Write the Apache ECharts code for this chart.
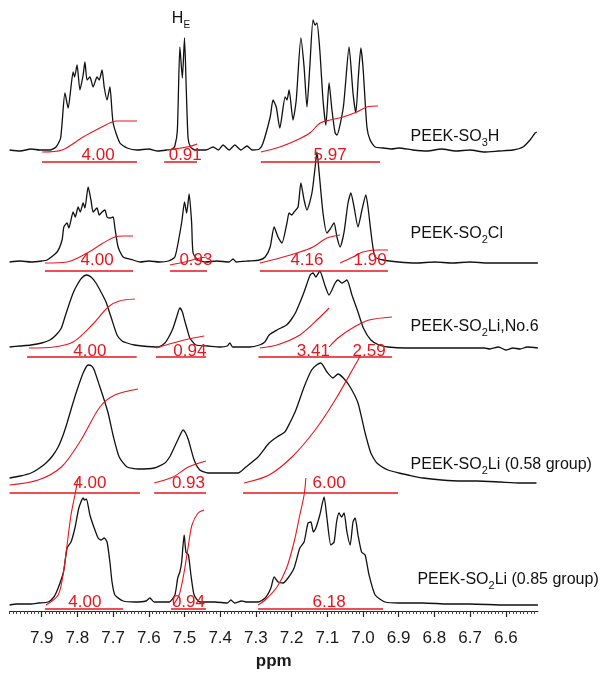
<!DOCTYPE html>
<html>
<head>
<meta charset="utf-8">
<script src="https://cdn.jsdelivr.net/npm/echarts@6.0.0/dist/echarts.min.js"></script>
<style>
html,body{margin:0;padding:0;background:#fff;}
#chart{width:603px;height:676px;}
</style>
</head>
<body>
<div id="chart"></div>
<script>
// ---------- DATA (ppm, intensity above each trace's own baseline) ----------
const ppmTicks = [7.9, 7.8, 7.7, 7.6, 7.5, 7.4, 7.3, 7.2, 7.1, 7.0, 6.9, 6.8, 6.7, 6.6];
const sampleNames = ['PEEK-SO{s|3}H', 'PEEK-SO{s|2}Cl', 'PEEK-SO{s|2}Li,No.6', 'PEEK-SO{s|2}Li (0.58 group)', 'PEEK-SO{s|2}Li (0.85 group)'];
const peakTag = 'H{s|E}';
const peakTagAt = [7.51, 131];

const so3hSpectrum = [[7.99,0],[7.96,-1],[7.93,1],[7.905,0],[7.877,0],[7.86,3],[7.847,12],[7.835,57],[7.826,42],[7.812,78],[7.808,73],[7.801,85],[7.793,60],[7.784,75],[7.779,88],[7.773,70],[7.765,73],[7.756,63],[7.745,73],[7.739,70],[7.731,80],[7.725,63],[7.717,50],[7.709,63],[7.700,27],[7.681,7],[7.661,2],[7.633,0],[7.60,1],[7.575,-1],[7.55,0],[7.535,1],[7.527,4],[7.52,20],[7.513,103],[7.506,72],[7.500,112],[7.495,60],[7.49,12],[7.483,3],[7.47,0],[7.44,0],[7.42,3],[7.405,0],[7.392,5],[7.375,0],[7.359,5],[7.342,0],[7.325,4],[7.31,0],[7.29,1],[7.280,7],[7.260,33],[7.252,50],[7.243,43],[7.233,22],[7.218,53],[7.213,50],[7.207,60],[7.196,30],[7.187,50],[7.174,112],[7.165,83],[7.157,43],[7.149,83],[7.140,130],[7.134,125],[7.129,127],[7.121,100],[7.112,50],[7.104,25],[7.095,67],[7.087,40],[7.078,17],[7.073,15],[7.055,43],[7.039,103],[7.028,57],[7.020,37],[7.013,73],[7.006,102],[7.0,83],[6.989,23],[6.980,10],[6.966,3],[6.944,2],[6.92,1],[6.90,2],[6.86,0],[6.82,-1],[6.78,1],[6.74,-1],[6.70,0],[6.66,-2],[6.62,-1],[6.58,0],[6.552,3],[6.532,10],[6.518,17],[6.513,18]];
const so2clSpectrum = [[7.99,0],[7.96,1],[7.93,0],[7.90,1],[7.885,2],[7.857,10],[7.843,22],[7.838,35],[7.829,39],[7.824,34],[7.812,50],[7.806,45],[7.798,55],[7.792,50],[7.784,59],[7.779,54],[7.770,75],[7.762,62],[7.756,50],[7.745,54],[7.739,47],[7.731,50],[7.723,52],[7.717,45],[7.709,44],[7.700,45],[7.695,34],[7.686,15],[7.672,5],[7.644,2],[7.624,0],[7.60,1],[7.57,0],[7.545,1],[7.527,5],[7.515,25],[7.507,42],[7.500,60],[7.494,49],[7.487,68],[7.480,39],[7.476,9],[7.462,2],[7.44,0],[7.41,1],[7.375,0],[7.364,3],[7.355,0],[7.32,1],[7.29,2],[7.274,5],[7.260,15],[7.249,35],[7.238,25],[7.227,19],[7.213,39],[7.207,49],[7.200,47],[7.193,50],[7.182,55],[7.174,79],[7.165,62],[7.157,52],[7.143,69],[7.134,95],[7.129,110],[7.123,90],[7.112,49],[7.101,29],[7.092,33],[7.081,39],[7.073,25],[7.064,15],[7.053,30],[7.042,59],[7.034,69],[7.025,55],[7.014,35],[7.003,52],[6.992,67],[6.986,55],[6.975,22],[6.966,5],[6.944,2],[6.90,0],[6.85,-1],[6.80,0],[6.75,-1],[6.70,0],[6.65,-1],[6.60,-1],[6.55,-1],[6.51,-1]];
const no6Spectrum = [[7.99,0],[7.96,1],[7.93,2],[7.90,4],[7.877,7],[7.86,12],[7.845,19],[7.835,30],[7.824,42],[7.812,54],[7.801,62],[7.788,69],[7.775,72],[7.762,70],[7.748,64],[7.734,55],[7.720,45],[7.705,29],[7.689,12],[7.675,6],[7.661,4],[7.640,2],[7.619,1],[7.574,0],[7.555,4],[7.544,10],[7.532,19],[7.522,30],[7.513,39],[7.506,35],[7.500,27],[7.492,17],[7.485,9],[7.468,2],[7.434,1],[7.40,0],[7.38,1],[7.373,4],[7.365,0],[7.317,0],[7.29,2],[7.275,5],[7.263,12],[7.241,17],[7.214,22],[7.200,28],[7.188,35],[7.176,45],[7.165,55],[7.148,72],[7.140,74],[7.132,70],[7.121,76],[7.107,62],[7.095,52],[7.078,64],[7.070,67],[7.059,64],[7.045,67],[7.031,52],[7.014,35],[6.999,19],[6.978,7],[6.955,2],[6.930,0],[6.88,-1],[6.80,-1],[6.72,-1],[6.66,-1],[6.645,-2],[6.62,0],[6.60,-3],[6.58,-1],[6.56,-2],[6.54,0],[6.51,-1]];
const g058Spectrum = [[7.990,5],[7.960,7],[7.930,10],[7.910,14],[7.888,20],[7.870,27],[7.854,36],[7.840,48],[7.829,60],[7.815,77],[7.801,93],[7.784,110],[7.770,118],[7.760,117],[7.753,113],[7.737,96],[7.725,83],[7.714,70],[7.699,46],[7.683,26],[7.661,16],[7.630,14],[7.585,15],[7.555,20],[7.540,27],[7.532,33],[7.515,46],[7.504,53],[7.497,50],[7.489,43],[7.473,23],[7.457,13],[7.434,10],[7.392,10],[7.350,10],[7.328,16],[7.294,26],[7.263,40],[7.241,46],[7.219,51],[7.205,60],[7.188,73],[7.165,96],[7.144,113],[7.130,118],[7.118,120],[7.101,111],[7.084,105],[7.070,109],[7.055,105],[7.036,96],[7.014,80],[6.994,50],[6.978,30],[6.961,20],[6.930,13],[6.900,10],[6.874,8],[6.832,5],[6.780,3],[6.724,2],[6.680,2],[6.616,1],[6.560,0],[6.514,0]];
const g085Spectrum = [[7.990,0],[7.970,1],[7.950,1],[7.930,1],[7.909,2],[7.882,3],[7.866,8],[7.854,17],[7.839,33],[7.829,57],[7.818,63],[7.807,77],[7.796,97],[7.784,107],[7.780,105],[7.775,106],[7.765,90],[7.753,77],[7.742,67],[7.734,65],[7.725,67],[7.717,63],[7.709,43],[7.703,23],[7.695,10],[7.672,4],[7.639,3],[7.608,4],[7.597,7],[7.585,3],[7.543,3],[7.527,10],[7.519,27],[7.513,33],[7.508,43],[7.501,70],[7.496,53],[7.489,50],[7.482,30],[7.473,10],[7.457,3],[7.415,3],[7.380,2],[7.370,5],[7.360,2],[7.340,4],[7.328,3],[7.294,3],[7.274,7],[7.258,17],[7.249,28],[7.238,23],[7.224,22],[7.210,27],[7.193,37],[7.177,57],[7.165,63],[7.154,82],[7.146,83],[7.139,73],[7.132,77],[7.121,90],[7.109,108],[7.101,87],[7.090,60],[7.081,63],[7.074,83],[7.067,92],[7.060,88],[7.053,92],[7.045,73],[7.036,60],[7.028,83],[7.022,87],[7.014,70],[7.004,53],[6.994,50],[6.983,30],[6.966,10],[6.938,3],[6.900,2],[6.832,2],[6.760,1],[6.700,1],[6.600,0],[6.510,0]];

// integration ranges (ppm from, ppm to)
const so3hIntRanges = [[7.899,7.633],[7.557,7.465],[7.286,6.952]];
const so2clIntRanges = [[7.891,7.644],[7.541,7.437],[7.289,6.930]];
const no6IntRanges = [[7.941,7.634],[7.580,7.440],[7.293,6.919]];
const g058IntRanges = [[7.990,7.625],[7.585,7.440],[7.336,6.902]];
const g085IntRanges = [[7.891,7.672],[7.538,7.440],[7.294,6.944]];

// integral values and the ppm where each is printed
const so3hIntValues = [['4.00',7.742],['0.91',7.498],['5.97',7.092]];
const so2clIntValues = [['4.00',7.745],['0.93',7.468],['4.16',7.157],['1.90',6.980]];
const no6IntValues = [['4.00',7.765],['0.94',7.485],['3.41',7.139],['2.59',6.983]];
const g058IntValues = [['4.00',7.765],['0.93',7.489],['6.00',7.095]];
const g085IntValues = [['4.00',7.779],['0.94',7.489],['6.18',7.095]];

// integral curves (ppm, running integral height)
const so3hIntCurves = [
  [[7.899,-2],[7.843,0],[7.784,13],[7.737,22],[7.703,28],[7.689,29],[7.633,29]],
  [[7.546,0],[7.493,3],[7.465,6]],
  [[7.286,-2],[7.233,3],[7.185,10],[7.149,17],[7.120,27],[7.092,30],[7.056,33],[7.017,38],[6.989,43],[6.958,44]]
];
const so2clIntCurves = [
  [[7.891,-1],[7.829,0],[7.773,9],[7.728,19],[7.695,25],[7.672,26],[7.644,26]],
  [[7.541,-3],[7.499,0],[7.457,4],[7.437,5]],
  [[7.289,-1],[7.233,4],[7.185,9],[7.140,15],[7.101,24],[7.064,27]],
  [[7.064,-1],[7.028,5],[7.0,10],[6.961,12],[6.930,12]]
];
const no6IntCurves = [
  [[7.936,-1],[7.866,0],[7.812,5],[7.759,22],[7.714,40],[7.683,46],[7.639,48]],
  [[7.580,-1],[7.532,4],[7.489,8],[7.445,11]],
  [[7.289,-1],[7.241,2],[7.177,12],[7.123,29],[7.095,39]],
  [[7.095,0],[7.070,9],[7.025,20],[6.983,27],[6.919,30]]
];
const g058IntCurves = [
  [[7.990,-2],[7.910,3],[7.845,16],[7.790,43],[7.737,76],[7.695,88],[7.630,94]],
  [[7.585,0],[7.532,6],[7.489,16],[7.440,22]],
  [[7.333,0],[7.263,8],[7.199,26],[7.134,53],[7.078,83],[7.014,123],[7.006,128]]
];
const g085IntCurves = [
  [[7.888,0],[7.854,10],[7.839,33],[7.829,60],[7.818,90],[7.807,110],[7.798,127]],
  [[7.532,0],[7.515,10],[7.501,33],[7.489,60],[7.479,80],[7.462,92],[7.445,95]],
  [[7.294,0],[7.274,5],[7.241,18],[7.214,37],[7.193,63],[7.177,90],[7.165,110],[7.160,127]]
];

// ---------- LAYOUT ----------
const stackBaselines = [461, 349, 264, 128, 6];
const barOffsets = [-12, -9, -10, -10, -4];
const valueOffsets = [-5, 2, -4, 0, 3];
const nameOffsets = [13, 28, 20, 18, 25];
const nameAt = [6.868, 6.868, 6.868, 6.868, 6.849];

const spectra = [so3hSpectrum, so2clSpectrum, no6Spectrum, g058Spectrum, g085Spectrum];
const ranges = [so3hIntRanges, so2clIntRanges, no6IntRanges, g058IntRanges, g085IntRanges];
const values = [so3hIntValues, so2clIntValues, no6IntValues, g058IntValues, g085IntValues];
const curves = [so3hIntCurves, so2clIntCurves, no6IntCurves, g058IntCurves, g085IntCurves];

const RED = '#e8151c';
const INK = '#111111';
const FONT = '"Liberation Sans", Arial, sans-serif';

const minorTicks = [];
for (let i = 652; i <= 799; i++) { if (i % 10 !== 0) minorTicks.push(i / 100); }

const hidden = { color: 'rgba(0,0,0,0)', opacity: 1 };
const series = [];
spectra.forEach((sp, i) => {
  const b = stackBaselines[i];
  series.push({
    type: 'line', data: sp.map(p => [p[0], b + p[1]]), symbol: 'none', smooth: 0.2,
    lineStyle: { color: INK, width: 1.3 }, z: 3, silent: true
  });
  curves[i].forEach(c => series.push({
    type: 'line', data: c.map(p => [p[0], b + p[1]]), symbol: 'none', smooth: 0.3,
    lineStyle: { color: RED, width: 1.1 }, z: 4, silent: true
  }));
  ranges[i].forEach(r => series.push({
    type: 'line', data: [[r[0], b + barOffsets[i]], [r[1], b + barOffsets[i]]], symbol: 'none',
    lineStyle: { color: RED, width: 1.6 }, z: 4, silent: true
  }));
  series.push({
    type: 'scatter', symbolSize: 1, itemStyle: hidden, z: 6, silent: true,
    data: values[i].map(v => ({ name: v[0], value: [v[1], b + valueOffsets[i]] })),
    label: { show: true, opacity: 1, position: 'inside', formatter: p => p.name, color: RED, fontSize: 17, fontFamily: FONT }
  });
  series.push({
    type: 'scatter', symbolSize: 1, itemStyle: hidden, z: 6, silent: true,
    data: [{ name: sampleNames[i], value: [nameAt[i], b + nameOffsets[i]] }],
    label: {
      show: true, opacity: 1, position: 'right', distance: 0, formatter: p => p.name,
      color: INK, fontSize: 16, fontFamily: FONT, lineHeight: 22,
      rich: { s: { fontSize: 11, lineHeight: 16, verticalAlign: 'bottom', color: INK, fontFamily: FONT } }
    }
  });
});
series.push({
  type: 'scatter', symbolSize: 1, itemStyle: hidden, z: 6, silent: true,
  data: [{ name: peakTag, value: [peakTagAt[0], stackBaselines[0] + peakTagAt[1]] }],
  label: {
    show: true, opacity: 1, position: 'inside', formatter: p => p.name, color: INK, fontSize: 16, fontFamily: FONT, lineHeight: 22,
    rich: { s: { fontSize: 10, lineHeight: 14, verticalAlign: 'bottom', color: INK, fontFamily: FONT } }
  }
});

const chart = echarts.init(document.getElementById('chart'), null, { renderer: 'canvas' });
chart.setOption({
  animation: false,
  backgroundColor: '#fff',
  grid: { left: 9.6, width: 528.3, top: 0, height: 611, containLabel: false },
  xAxis: [{
    type: 'value', min: 6.51, max: 7.99, inverse: true, position: 'bottom',
    axisLine: { show: true, lineStyle: { color: '#222', width: 1.2 } },
    axisTick: { show: true, customValues: ppmTicks, length: 6, lineStyle: { color: '#222', width: 1.2 } },
    axisLabel: { show: true, customValues: ppmTicks, formatter: v => v.toFixed(1), fontSize: 17, color: '#1a1a1a', fontFamily: FONT, margin: 19 },
    splitLine: { show: false },
    name: 'ppm', nameLocation: 'middle', nameGap: 42,
    nameTextStyle: { fontSize: 17, fontWeight: 'bold', color: '#1a1a1a', fontFamily: FONT }
  }, {
    type: 'value', min: 6.51, max: 7.99, inverse: true, position: 'bottom', offset: 0,
    axisLine: { show: false },
    axisTick: { show: true, customValues: minorTicks, length: 3, lineStyle: { color: '#444', width: 1 } },
    axisLabel: { show: false }, splitLine: { show: false }
  }],
  yAxis: { type: 'value', min: 0, max: 611, show: false },
  series: series
});
</script>
</body>
</html>
